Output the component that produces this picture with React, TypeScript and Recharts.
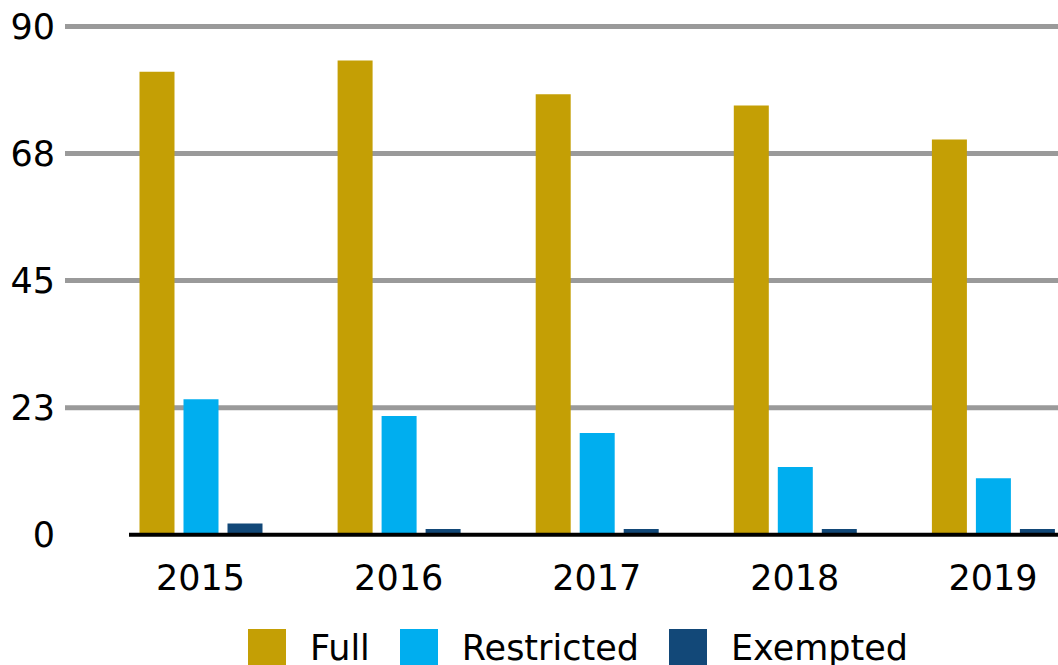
import { BarChart, Bar, XAxis, YAxis, CartesianGrid, ReferenceLine } from "recharts";

// Values.
const years = ["2015", "2016", "2017", "2018", "2019"];
const full = [82, 84, 78, 76, 70];
const restricted = [24, 21, 18, 12, 10];
const exempted = [2, 1, 1, 1, 1];
const yTicks = [0, 22.5, 45, 67.5, 90];

const series = [
  { key: "full", name: "Full", color: "#C49F05" },
  { key: "restricted", name: "Restricted", color: "#00AEEF" },
  { key: "exempted", name: "Exempted", color: "#124878" },
];

const data = years.map((year, i) => ({
  year,
  full: full[i],
  restricted: restricted[i],
  exempted: exempted[i],
}));

const FONT = "'DejaVu Sans', Verdana, sans-serif";
const tickStyle = { fontSize: 35, fill: "#000", fontFamily: FONT };

export default function App() {
  return (
    <div
      style={{
        position: "absolute",
        left: 0,
        top: 0,
        width: 1058,
        height: 665,
        overflow: "hidden",
        background: "#fff",
        fontFamily: FONT,
      }}
    >
      <BarChart
        width={1092}
        height={665}
        data={data}
        margin={{ top: 26.5, right: 0, bottom: 90.3, left: 0 }}
        barSize={35}
        barGap={9}
      >
        <CartesianGrid
          vertical={false}
          stroke="#9a9a9a"
          strokeWidth={5}
          horizontalValues={yTicks.filter((t) => t > 0)}
        />
        <XAxis
          dataKey="year"
          height={40}
          padding={{ left: 36.5, right: 0 }}
          axisLine={false}
          tickLine={false}
          tickSize={0}
          tickMargin={30}
          tick={tickStyle}
          interval={0}
        />
        <YAxis
          width={65}
          domain={[0, 90]}
          ticks={yTicks}
          tickFormatter={(v: number) => String(Math.round(v))}
          axisLine={false}
          tickLine={false}
          tickSize={0}
          tickMargin={10}
          tick={tickStyle}
        />
        {series.map((s) => (
          <Bar key={s.key} dataKey={s.key} name={s.name} fill={s.color} isAnimationActive={false} />
        ))}
        {/* black baseline starts a bit inside the first category */}
        <ReferenceLine
          y={0}
          stroke="#000"
          strokeWidth={4}
          shape={(p: any) => (
            <line x1={p.x1 + 64} y1={p.y1} x2={p.x2} y2={p.y2} stroke="#000" strokeWidth={4} />
          )}
        />
      </BarChart>
      {/* Legend */}
      <div style={{ position: "absolute", left: 248, top: 629, display: "flex", alignItems: "flex-start" }}>
        {series.map((s) => (
          <div key={s.key} style={{ display: "flex", alignItems: "flex-start", marginRight: 30 }}>
            <span style={{ width: 38, height: 38, background: s.color, display: "inline-block" }} />
            <span style={{ marginLeft: 24, marginTop: 2, fontSize: 35, lineHeight: "35px", color: "#000" }}>
              {s.name}
            </span>
          </div>
        ))}
      </div>
    </div>
  );
}
